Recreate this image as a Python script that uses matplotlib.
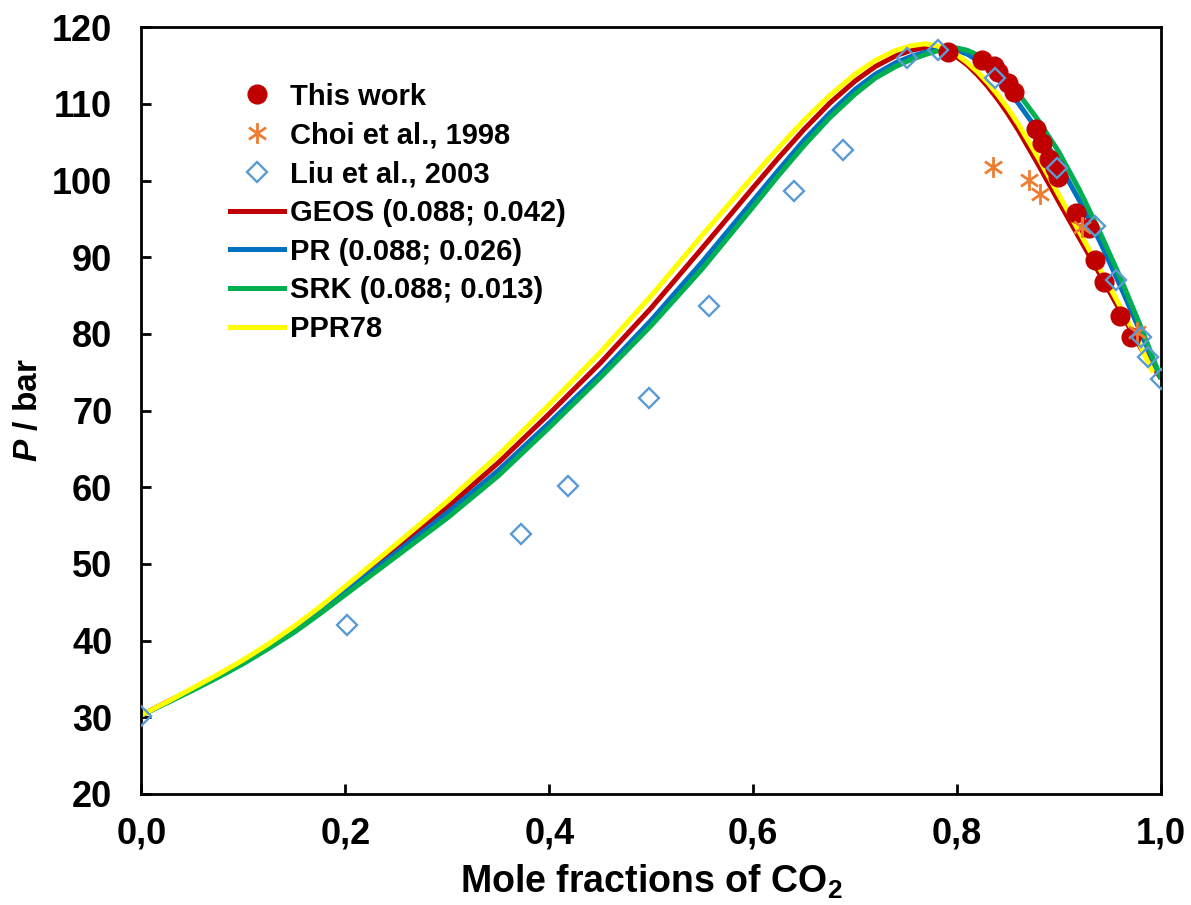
import matplotlib
matplotlib.use("Agg")
import matplotlib.pyplot as plt
from matplotlib.path import Path
from matplotlib.ticker import FuncFormatter
from matplotlib.lines import Line2D

# ---- experimental data -------------------------------------------------
this_work_x = [0.791, 0.824, 0.836, 0.840, 0.850, 0.856, 0.877, 0.883, 0.890,
               0.896, 0.899, 0.917, 0.929, 0.935, 0.944, 0.960, 0.971]
this_work_p = [116.8, 115.8, 114.9, 114.2, 112.7, 111.6, 106.8, 104.9, 102.8,
               101.6, 100.5, 95.8, 93.8, 89.7, 86.8, 82.3, 79.6]

choi_x = [0.835, 0.871, 0.881, 0.923, 0.976]
choi_p = [101.8, 100.1, 98.3, 94.0, 80.3]

liu_x = [0.0, 0.202, 0.372, 0.418, 0.498, 0.557, 0.640, 0.688, 0.751, 0.781,
         0.837, 0.898, 0.935, 0.956, 0.980, 0.987, 1.0]
liu_p = [30.2, 42.0, 53.9, 60.2, 71.7, 83.7, 98.6, 104.0, 116.0, 117.0,
         113.4, 101.7, 94.1, 87.1, 79.6, 77.0, 74.1]

# ---- model curves --------------------------------------------------------
geos_x = [0.0, 0.025, 0.05, 0.075, 0.10, 0.125, 0.15, 0.175, 0.20, 0.25,
          0.30, 0.35, 0.40, 0.45, 0.50, 0.55, 0.60, 0.625, 0.65, 0.675,
          0.70, 0.72, 0.74, 0.755, 0.77, 0.78, 0.79, 0.80, 0.81, 0.82,
          0.83, 0.84, 0.85, 0.86, 0.88, 0.90, 0.92, 0.94, 0.96, 0.98, 1.0]
geos_p = [30.3, 32.0, 33.7, 35.5, 37.3, 39.4, 41.6, 44.1, 46.7, 52.0,
          57.4, 63.2, 69.6, 76.2, 83.4, 91.2, 99.1, 103.0, 106.7, 110.1,
          113.0, 114.9, 116.3, 117.0, 117.4, 117.3, 116.8, 116.1, 115.1, 113.8,
          112.3, 110.6, 108.7, 106.6, 102.0, 97.2, 92.5, 87.8, 83.0, 78.2, 74.2]

pr_x = [0.0, 0.025, 0.05, 0.075, 0.10, 0.125, 0.15, 0.175, 0.20, 0.25,
        0.30, 0.35, 0.40, 0.45, 0.50, 0.55, 0.60, 0.625, 0.65, 0.675,
        0.70, 0.72, 0.74, 0.755, 0.77, 0.78, 0.79, 0.80, 0.81, 0.82,
        0.83, 0.84, 0.85, 0.86, 0.88, 0.90, 0.92, 0.94, 0.96, 0.98, 1.0]
pr_p = [30.3, 31.9, 33.6, 35.3, 37.1, 39.2, 41.4, 43.8, 46.4, 51.5,
        56.7, 62.2, 68.4, 74.8, 81.8, 89.4, 97.4, 101.4, 105.3, 108.8,
        111.9, 113.9, 115.4, 116.2, 116.8, 117.05, 117.15, 117.0, 116.5, 115.7,
        114.6, 113.3, 111.8, 110.1, 106.4, 102.2, 97.4, 92.1, 86.3, 80.2, 74.2]

srk_x = [0.0, 0.025, 0.05, 0.075, 0.10, 0.125, 0.15, 0.175, 0.20, 0.25,
         0.30, 0.35, 0.40, 0.45, 0.50, 0.55, 0.60, 0.625, 0.65, 0.675,
         0.70, 0.72, 0.74, 0.755, 0.77, 0.78, 0.79, 0.80, 0.81, 0.82,
         0.83, 0.84, 0.85, 0.86, 0.88, 0.90, 0.92, 0.94, 0.96, 0.98, 1.0]
srk_p = [30.3, 31.9, 33.5, 35.2, 37.0, 39.0, 41.1, 43.5, 46.0, 51.0,
         56.0, 61.5, 67.8, 74.3, 81.1, 88.5, 96.6, 100.7, 104.6, 108.2,
         111.3, 113.4, 114.9, 115.8, 116.5, 116.9, 117.2, 117.3, 117.0, 116.4,
         115.5, 114.4, 113.0, 111.4, 107.8, 103.7, 98.8, 93.3, 87.4, 81.0, 74.2]

ppr78_x = [0.0, 0.025, 0.05, 0.075, 0.10, 0.125, 0.15, 0.175, 0.20, 0.25,
           0.30, 0.35, 0.40, 0.45, 0.50, 0.55, 0.60, 0.625, 0.65, 0.675,
           0.70, 0.72, 0.74, 0.755, 0.768, 0.78, 0.79, 0.80, 0.81, 0.82,
           0.83, 0.84, 0.85, 0.86, 0.88, 0.90, 0.92, 0.94, 0.96, 0.98, 0.992]
ppr78_p = [30.3, 32.0, 33.8, 35.6, 37.5, 39.6, 41.9, 44.4, 47.1, 52.6,
           58.2, 64.2, 70.8, 77.6, 85.0, 92.9, 100.6, 104.3, 107.9, 111.1,
           113.9, 115.7, 117.0, 117.6, 117.85, 117.6, 117.1, 116.4, 115.4, 114.2,
           112.8, 111.2, 109.4, 107.4, 102.9, 98.1, 93.3, 88.5, 83.6, 78.4, 75.0]

series_labels = ["This work", "Choi et al., 1998", "Liu et al., 2003",
                 "GEOS (0.088; 0.042)", "PR (0.088; 0.026)",
                 "SRK (0.088; 0.013)", "PPR78"]

x_ticks = [0.0, 0.2, 0.4, 0.6, 0.8, 1.0]
y_ticks = [20, 30, 40, 50, 60, 70, 80, 90, 100, 110, 120]

# ---- style ----------------------------------------------------------------
plt.rcParams["font.family"] = ["Liberation Sans", "DejaVu Sans"]
plt.rcParams["font.weight"] = "bold"
plt.rcParams["mathtext.fontset"] = "custom"
plt.rcParams["mathtext.rm"] = "Liberation Sans:bold"
plt.rcParams["mathtext.bf"] = "Liberation Sans:bold"
plt.rcParams["mathtext.it"] = "Liberation Sans:italic:bold"

RED = "#C00000"
BLUE = "#0070C0"
GREEN = "#00B050"
YELLOW = "#FFFF00"
DIAMOND = "#5B9BD5"
ORANGE = "#ED7D31"

# six-armed asterisk: a vertical stroke crossed by a flattened X
asterisk = Path([(0, -1), (0, 1), (-0.82, -0.57), (0.82, 0.57),
                 (-0.82, 0.57), (0.82, -0.57)],
                [Path.MOVETO, Path.LINETO, Path.MOVETO, Path.LINETO,
                 Path.MOVETO, Path.LINETO])

fig = plt.figure(figsize=(11.91, 9.05), dpi=100)
ax = fig.add_axes([0.1188, 0.1227, 0.8560, 0.8471])

lw = 3.6
line_kw = dict(lw=lw, zorder=2, solid_joinstyle="round", solid_capstyle="butt")
ax.plot(geos_x, geos_p, color=RED, **line_kw)
ax.plot(pr_x, pr_p, color=BLUE, **line_kw)
ax.plot(srk_x, srk_p, color=GREEN, **line_kw)
ax.plot(ppr78_x, ppr78_p, color=YELLOW, **line_kw)

circ_kw = dict(ls="none", marker="o", ms=13.5, mfc=RED, mec=RED)
star_kw = dict(ls="none", marker=asterisk, ms=15, mfc="none", mec=ORANGE, mew=2.0)
diam_kw = dict(ls="none", marker="D", ms=10.5, mfc="none", mec=DIAMOND, mew=1.7)

ax.plot(this_work_x, this_work_p, zorder=3, **circ_kw)
ax.plot(choi_x, choi_p, zorder=4, **star_kw)
ax.plot(liu_x, liu_p, zorder=5, **diam_kw)

ax.set_xlim(0, 1)
ax.set_ylim(20, 120)
ax.set_xticks(x_ticks)
ax.set_yticks(y_ticks)
ax.xaxis.set_major_formatter(FuncFormatter(lambda v, p: f"{v:.1f}".replace(".", ",")))
ax.tick_params(axis="both", direction="in", length=7, width=2,
               labelsize=26, top=False, right=False)
ax.tick_params(axis="y", pad=21)
ax.tick_params(axis="x", pad=16)
for lab in ax.get_xticklabels() + ax.get_yticklabels():
    lab.set_fontweight("bold")
for sp in ax.spines.values():
    sp.set_linewidth(2)
    sp.set_color("black")

ax.set_xlabel("Mole fractions of CO$_\\mathrm{2}$", fontsize=27,
              fontweight="bold", labelpad=8)
ax.set_ylabel("$P$ / bar", fontsize=24, fontweight="bold", labelpad=6)

handles = [
    Line2D([], [], **circ_kw),
    Line2D([], [], **star_kw),
    Line2D([], [], **diam_kw),
    Line2D([], [], color=RED, lw=lw),
    Line2D([], [], color=BLUE, lw=lw),
    Line2D([], [], color=GREEN, lw=lw),
    Line2D([], [], color=YELLOW, lw=lw),
]
leg = ax.legend(handles, series_labels, loc="upper left",
                bbox_to_anchor=(0.0868, 0.928), frameon=False,
                fontsize=21, handlelength=1.85, handletextpad=0.2,
                labelspacing=0.37, borderpad=0, borderaxespad=0)
for t in leg.get_texts():
    t.set_fontweight("bold")

fig.savefig("out.png", dpi=100, facecolor="white")
